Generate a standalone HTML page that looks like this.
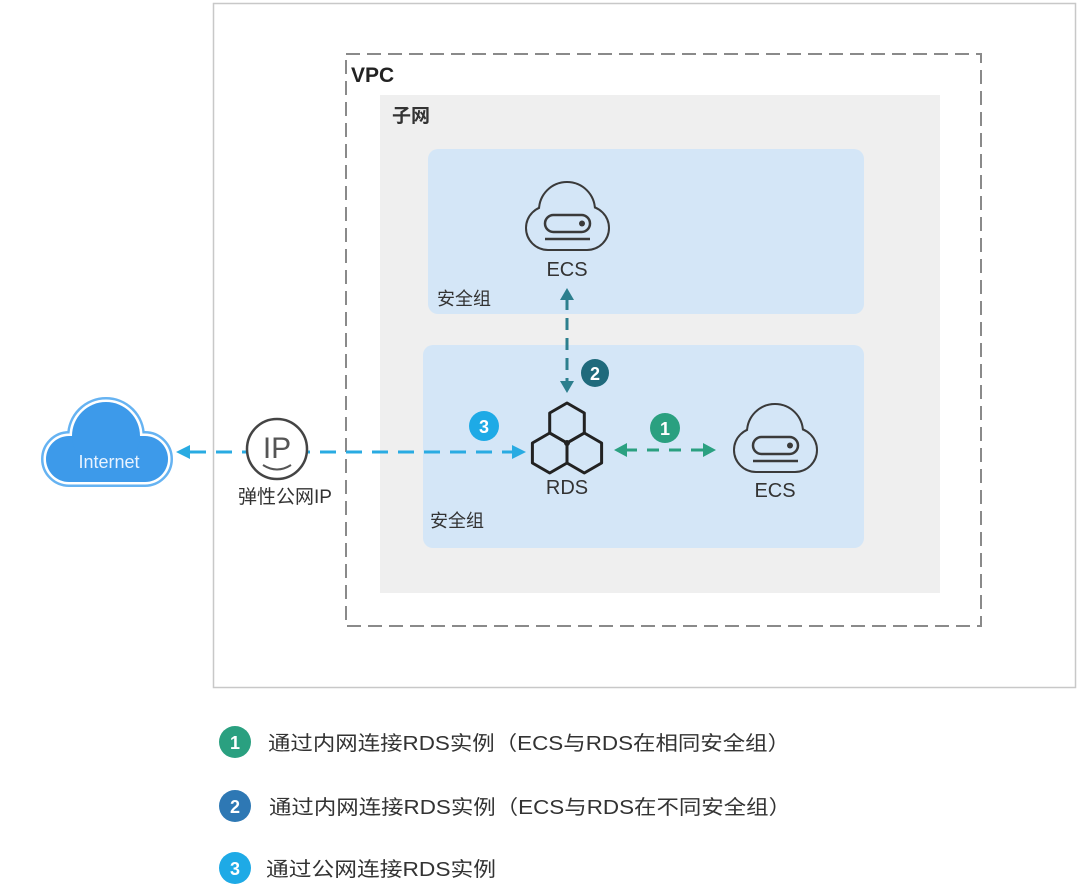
<!DOCTYPE html>
<html><head><meta charset="utf-8"><style>
html,body{margin:0;padding:0;background:#fff}
svg{display:block}
text{font-family:"Liberation Sans","Noto Sans CJK SC",sans-serif}
</style></head><body>
<svg width="1088" height="896" viewBox="0 0 1088 896" xmlns="http://www.w3.org/2000/svg">
<rect x="213.5" y="3.5" width="862" height="684" fill="#fff" stroke="#c8c8c8" stroke-width="1.5"/>
<rect x="346" y="54" width="635" height="572" fill="none" stroke="#8a8a8a" stroke-width="2" stroke-dasharray="14,7"/>
<text x="351" y="82" font-size="21" font-weight="bold" fill="#222">VPC</text>
<rect x="380" y="95" width="560" height="498" fill="#efefef"/>
<text x="392" y="122" font-size="19" font-weight="bold" fill="#333">子网</text>
<rect x="428" y="149" width="436" height="165" rx="10" fill="#d4e6f7"/>
<rect x="423" y="345" width="441" height="203" rx="10" fill="#d4e6f7"/>
<text x="437" y="305" font-size="18" fill="#333">安全组</text>
<text x="430" y="527" font-size="18" fill="#333">安全组</text>

<g id="ecs">
<rect x="527" y="207" width="81" height="42" rx="21" fill="none" stroke="#3a3a3a" stroke-width="4"/>
<circle cx="567" cy="210" r="27" fill="none" stroke="#3a3a3a" stroke-width="4"/>
<rect x="527" y="207" width="81" height="42" rx="21" fill="#d4e6f7"/>
<circle cx="567" cy="210" r="27" fill="#d4e6f7"/>
<rect x="545" y="215" width="45" height="17" rx="8.5" fill="none" stroke="#3a3a3a" stroke-width="2.5"/>
<circle cx="582" cy="223.5" r="3" fill="#3a3a3a"/>
<line x1="545" y1="239" x2="590" y2="239" stroke="#3a3a3a" stroke-width="2.5"/>
</g>
<text x="567" y="276" font-size="20" fill="#333" text-anchor="middle">ECS</text>
<use href="#ecs" transform="translate(208,222)"/>
<text x="775" y="497" font-size="20" fill="#333" text-anchor="middle">ECS</text>

<g fill="none" stroke="#222" stroke-width="3" stroke-linejoin="round">
<polygon points="567,403 584.3,413 584.3,433 567,443 549.7,433 549.7,413"/>
<polygon points="549.7,433 567,443 567,463 549.7,473 532.4,463 532.4,443"/>
<polygon points="584.3,433 601.6,443 601.6,463 584.3,473 567,463 567,443"/>
</g>
<circle cx="567" cy="443" r="3" fill="#222"/>
<text x="567" y="494" font-size="20" fill="#333" text-anchor="middle">RDS</text>

<line x1="567" y1="298" x2="567" y2="382" stroke="#2c7f8e" stroke-width="3" stroke-dasharray="12,8"/>
<polygon points="567,288 560,300 574,300" fill="#2c7f8e"/>
<polygon points="567,393 560,381 574,381" fill="#2c7f8e"/>
<circle cx="595" cy="373" r="14" fill="#1f6a7c"/>
<text x="595" y="380" font-size="18" font-weight="bold" fill="#fff" text-anchor="middle">2</text>

<line x1="625" y1="450" x2="705" y2="450" stroke="#2aa080" stroke-width="3" stroke-dasharray="12,10"/>
<polygon points="614,450 627,443 627,457" fill="#2aa080"/>
<polygon points="716,450 703,443 703,457" fill="#2aa080"/>
<circle cx="665" cy="428" r="15" fill="#2aa080"/>
<text x="665" y="435" font-size="18" font-weight="bold" fill="#fff" text-anchor="middle">1</text>

<line x1="190" y1="452" x2="515" y2="452" stroke="#29abe2" stroke-width="3" stroke-dasharray="16,10"/>
<polygon points="176,452 190,445 190,459" fill="#29abe2"/>
<polygon points="526,452 512,445 512,459" fill="#29abe2"/>
<circle cx="484" cy="426" r="15" fill="#1eaae6"/>
<text x="484" y="433" font-size="18" font-weight="bold" fill="#fff" text-anchor="middle">3</text>

<circle cx="277" cy="449" r="30" fill="#fff" stroke="#444" stroke-width="2.5"/>
<text x="277" y="458" font-size="30" fill="#555" text-anchor="middle">IP</text>
<path d="M263 465 Q277 474 291 465" fill="none" stroke="#555" stroke-width="2"/>
<text x="285" y="503" font-size="19" fill="#333" text-anchor="middle">弹性公网IP</text>

<g fill="#66b3f2" stroke="#66b3f2" stroke-width="10">
<rect x="46" y="436" width="122" height="46" rx="23"/>
<circle cx="106" cy="436" r="34"/>
</g>
<g fill="#fff" stroke="#fff" stroke-width="5">
<rect x="46" y="436" width="122" height="46" rx="23"/>
<circle cx="106" cy="436" r="34"/>
</g>
<g fill="#3d9aea">
<rect x="46" y="436" width="122" height="46" rx="23"/>
<circle cx="106" cy="436" r="34"/>
</g>
<text x="109" y="468" font-size="18" fill="#e8f3ff" text-anchor="middle">Internet</text>

<circle cx="235" cy="742" r="16" fill="#2aa080"/>
<text x="235" y="749" font-size="18" font-weight="bold" fill="#fff" text-anchor="middle">1</text>
<text x="268" y="750" font-size="20" fill="#333" textLength="522" lengthAdjust="spacingAndGlyphs">通过内网连接RDS实例（ECS与RDS在相同安全组）</text>
<circle cx="235" cy="806" r="16" fill="#2e78b4"/>
<text x="235" y="813" font-size="18" font-weight="bold" fill="#fff" text-anchor="middle">2</text>
<text x="269" y="814" font-size="20" fill="#333" textLength="522" lengthAdjust="spacingAndGlyphs">通过内网连接RDS实例（ECS与RDS在不同安全组）</text>
<circle cx="235" cy="868" r="16" fill="#1eaae6"/>
<text x="235" y="875" font-size="18" font-weight="bold" fill="#fff" text-anchor="middle">3</text>
<text x="266" y="876" font-size="20" fill="#333" textLength="230" lengthAdjust="spacingAndGlyphs">通过公网连接RDS实例</text>
</svg>
</body></html>
